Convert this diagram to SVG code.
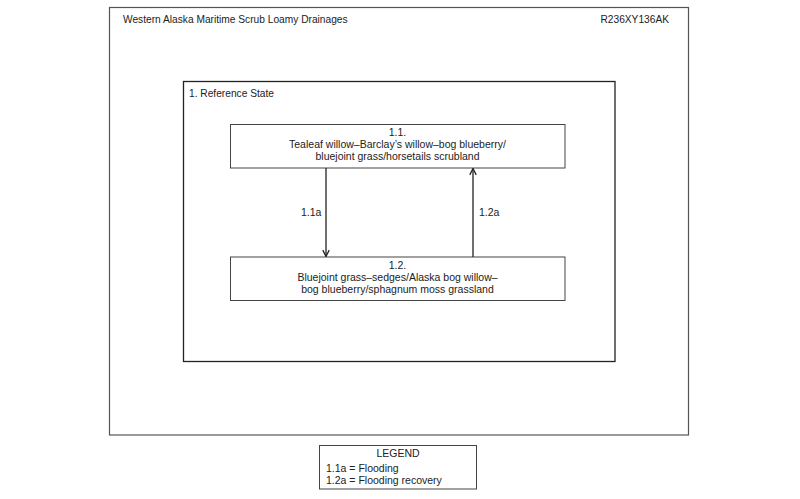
<svg xmlns="http://www.w3.org/2000/svg" width="800" height="499" viewBox="0 0 800 499">
<style>
text{font-family:"Liberation Sans",Arial,sans-serif;font-size:10.5px;fill:#222}
.c{text-anchor:middle}
.t{font-size:10.2px}
.node{fill:#fff;stroke:#444;stroke-width:1}
.conn{stroke:#222;stroke-width:1.3;fill:none}
</style>
<defs>
<marker id="ah" viewBox="0 0 10 10" refX="9" refY="5" markerWidth="8" markerHeight="8" markerUnits="userSpaceOnUse" orient="auto">
<path d="M1,1 L9,5 L1,9" fill="none" stroke="#222" stroke-width="1.6"/>
</marker>
</defs>
<rect width="800" height="499" fill="#fff"/>
<g id="frame">
<rect x="109.5" y="7.5" width="579" height="427.5" fill="none" stroke="#555" stroke-width="1.2"/>
<text class="t" x="123" y="23">Western Alaska Maritime Scrub Loamy Drainages</text>
<text class="t" x="669" y="23" text-anchor="end">R236XY136AK</text>
</g>
<g id="state1">
<rect x="183.5" y="81.5" width="431.5" height="280" fill="none" stroke="#222" stroke-width="1.3"/>
<text class="t" x="189" y="97">1. Reference State</text>
</g>
<g id="node11">
<rect class="node" x="230.5" y="124.5" width="334.5" height="43.5"/>
<text class="c" x="397.5" y="136">1.1.</text>
<text class="c" x="397.5" y="148">Tealeaf willow–Barclay’s willow–bog blueberry/</text>
<text class="c" x="397.5" y="160">bluejoint grass/horsetails scrubland</text>
</g>
<g id="node12">
<rect class="node" x="230.5" y="257" width="334.5" height="43.5"/>
<text class="c" x="397.5" y="269">1.2.</text>
<text class="c" x="397.5" y="281">Bluejoint grass–sedges/Alaska bog willow–</text>
<text class="c" x="397.5" y="293">bog blueberry/sphagnum moss grassland</text>
</g>
<g id="connectors">
<line class="conn" x1="326" y1="168" x2="326" y2="256.5" marker-end="url(#ah)"/>
<line class="conn" x1="473" y1="257" x2="473" y2="168.5" marker-end="url(#ah)"/>
<text x="301" y="216">1.1a</text>
<text x="479" y="216">1.2a</text>
</g>
<g id="legend">
<rect x="319.5" y="445.5" width="157" height="43.5" fill="#fff" stroke="#444" stroke-width="1"/>
<text class="c" x="398" y="457">LEGEND</text>
<text x="326" y="472">1.1a = Flooding</text>
<text x="326" y="484">1.2a = Flooding recovery</text>
</g>
</svg>
